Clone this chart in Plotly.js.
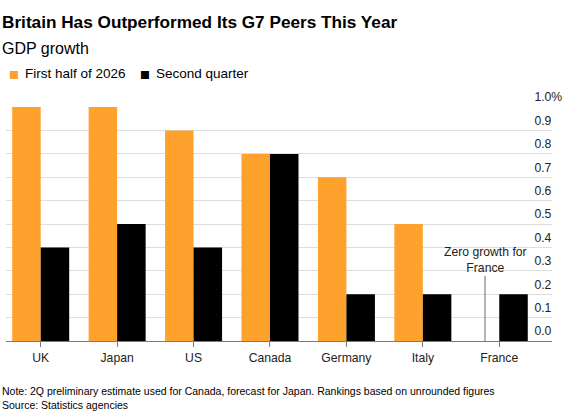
<!DOCTYPE html>
<html>
<head>
<meta charset="utf-8">
<script src="https://cdn.plot.ly/plotly-3.0.1.min.js"></script>
<style>html,body{margin:0;padding:0;background:#fff;}#chart{width:565px;height:419px;}</style>
</head>
<body>
<div id="chart"></div>
<script>
const categories = ["UK", "Japan", "US", "Canada", "Germany", "Italy", "France"];
const firstHalf = [1.0, 1.0, 0.9, 0.8, 0.7, 0.5, 0.0];
const secondQuarter = [0.4, 0.5, 0.4, 0.8, 0.2, 0.2, 0.2];
const seriesNames = ["First half of 2026", "Second quarter"];
const tickValues = [0, 0.1, 0.2, 0.3, 0.4, 0.5, 0.6, 0.7, 0.8, 0.9, 1.0];
const tickLabels = ["0.0", "0.1", "0.2", "0.3", "0.4", "0.5", "0.6", "0.7", "0.8", "0.9", "1.0%"];

const ORANGE = "#ffa12d";
const FONT = "Liberation Sans, Arial, sans-serif";

const traces = [
  {type: "bar", x: categories, y: firstHalf, name: seriesNames[0],
   marker: {color: ORANGE, line: {width: 0}}, showlegend: false, hoverinfo: "none"},
  {type: "bar", x: categories, y: secondQuarter, name: seriesNames[1],
   marker: {color: "#000000", line: {width: 0}}, showlegend: false, hoverinfo: "none"}
];

const layout = {
  width: 565, height: 419,
  margin: {l: 6, r: 13, t: 106.7, b: 78.3, pad: 0},
  paper_bgcolor: "#fff", plot_bgcolor: "#fff",
  font: {family: FONT, color: "#222", size: 12},
  barmode: "group", bargap: 0.254, bargroupgap: 0,
  showlegend: false,
  xaxis: {
    type: "category", range: [-0.454, 6.69], fixedrange: true,
    showline: true, linecolor: "#7a7a7a", linewidth: 1,
    ticks: "outside", ticklen: 5, tickcolor: "#7a7a7a", tickwidth: 1,
    showgrid: false, zeroline: false,
    tickfont: {family: FONT, size: 12.2, color: "#222"}
  },
  yaxis: {
    side: "right", anchor: "free", position: 0.966,
    range: [0, 1.0005], fixedrange: true,
    tickvals: tickValues, ticktext: tickLabels,
    showgrid: true, gridcolor: "#dedede", gridwidth: 1,
    zeroline: false, showline: false, ticks: "",
    ticklabelshift: -10, ticklabelstandoff: 0,
    tickfont: {family: FONT, size: 12.2, color: "#222"}
  },
  annotations: [
    {xref: "paper", yref: "paper", x: -6/546, y: 1 + (106.7 - 22)/234, xanchor: "left", yanchor: "middle",
     text: "<b>Britain Has Outperformed Its G7 Peers This Year</b>", showarrow: false,
     font: {family: FONT, size: 17.2, color: "#000"}},
    {xref: "paper", yref: "paper", x: -6/546, y: 1 + (106.7 - 48.5)/234, xanchor: "left", yanchor: "middle",
     text: "GDP growth", showarrow: false, font: {family: FONT, size: 16, color: "#000"}},
    {xref: "paper", yref: "paper", x: 0.5/546, y: 1 + (106.7 - 73.5)/234, xanchor: "left", yanchor: "middle",
     text: "<span style='color:" + ORANGE + "'>■</span>", showarrow: false, font: {family: "DejaVu Sans", size: 10.5}},
    {xref: "paper", yref: "paper", x: 16.5/546, y: 1 + (106.7 - 73.5)/234, xanchor: "left", yanchor: "middle",
     text: seriesNames[0], showarrow: false, font: {family: FONT, size: 13.5, color: "#000"}},
    {xref: "paper", yref: "paper", x: 131.5/546, y: 1 + (106.7 - 73.5)/234, xanchor: "left", yanchor: "middle",
     text: "<span style='color:#000'>■</span>", showarrow: false, font: {family: "DejaVu Sans", size: 10.5}},
    {xref: "paper", yref: "paper", x: 147.5/546, y: 1 + (106.7 - 73.5)/234, xanchor: "left", yanchor: "middle",
     text: seriesNames[1], showarrow: false, font: {family: FONT, size: 13.5, color: "#000"}},
    {xref: "paper", yref: "paper", x: -6/546, y: -(391 - 340.7)/234, xanchor: "left", yanchor: "middle",
     text: "Note: 2Q preliminary estimate used for Canada, forecast for Japan. Rankings based on unrounded figures",
     showarrow: false, font: {family: FONT, size: 10.5, color: "#000"}},
    {xref: "paper", yref: "paper", x: -6/546, y: -(404.5 - 340.7)/234, xanchor: "left", yanchor: "middle",
     text: "Source: Statistics agencies", showarrow: false, font: {family: FONT, size: 10.5, color: "#000"}},
    {xref: "x", yref: "y", x: 6 - 0.1865, y: 0, axref: "x", ayref: "y", ax: 6 - 0.1865, ay: 0.345,
     text: "Zero growth for<br>France", showarrow: true, arrowhead: 0, arrowwidth: 1, arrowcolor: "#6a6a6a",
     standoff: 0, startstandoff: 0, borderpad: 0,
     font: {family: FONT, size: 12.2, color: "#222"}}
  ]
};

Plotly.newPlot("chart", traces, layout, {staticPlot: true, displayModeBar: false});
</script>
</body>
</html>
